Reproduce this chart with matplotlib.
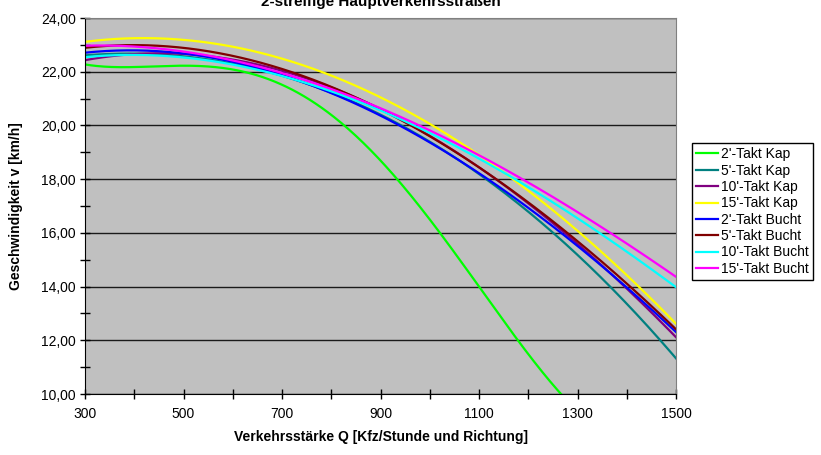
import matplotlib
matplotlib.use("Agg")
import matplotlib.pyplot as plt
import numpy as np
from matplotlib.ticker import MultipleLocator, FixedLocator, FuncFormatter

plt.rcParams['font.family'] = ['Liberation Sans', 'DejaVu Sans']

# Verkehrsstaerke Q (Kfz/h und Richtung)
q = [300, 500, 700, 900, 1100, 1300, 1500]
q_green = [300, 400, 500, 600, 700, 900, 1100, 1300]

# Geschwindigkeit v (km/h)
v_2_kap = [22.29, 22.15, 22.18, 22.12, 21.58, 18.60, 14.05, 9.35]
v_5_kap = [22.62, 22.55, 21.85, 20.40, 18.25, 15.11, 11.35]
v_10_kap = [22.46, 22.60, 22.00, 20.75, 18.38, 15.55, 12.14]
v_15_kap = [23.12, 23.18, 22.45, 21.10, 18.90, 16.04, 12.63]
v_2_bucht = [22.72, 22.65, 21.88, 20.39, 18.22, 15.49, 12.32]
v_5_bucht = [22.93, 22.81, 22.06, 20.76, 18.40, 15.61, 12.45]
v_10_bucht = [22.56, 22.50, 21.82, 20.58, 18.86, 16.42, 14.02]
v_15_bucht = [22.99, 22.71, 21.94, 20.67, 18.96, 16.67, 14.40]

series = [
    ("2'-Takt Kap", q_green, v_2_kap, '#00FF00', 4),
    ("5'-Takt Kap", q, v_5_kap, '#008080', 3),
    ("10'-Takt Kap", q, v_10_kap, '#800080', 3),
    ("15'-Takt Kap", q, v_15_kap, '#FFFF00', 3),
    ("2'-Takt Bucht", q, v_2_bucht, '#0000FF', 3),
    ("5'-Takt Bucht", q, v_5_bucht, '#800000', 3),
    ("10'-Takt Bucht", q, v_10_bucht, '#00FFFF', 3),
    ("15'-Takt Bucht", q, v_15_bucht, '#FF00FF', 3),
]

W, H = 821, 455
fig = plt.figure(figsize=(W / 100, H / 100), dpi=100)
ax = fig.add_axes([85 / W, 1 - 394 / H, 591 / W, 376 / H])
ax.set_facecolor('#C0C0C0')

# polynomial trend lines like the spreadsheet
xs = np.linspace(300, 1500, 400)
for label, x, y, col, deg in series:
    coef = np.polyfit(x, y, deg)
    ax.plot(xs, np.polyval(coef, xs), color=col, lw=1.6, label=label)

ax.set_xlim(300, 1500)
ax.set_ylim(10, 24)
ax.xaxis.set_major_locator(FixedLocator(range(300, 1501, 200)))
ax.xaxis.set_minor_locator(FixedLocator(range(400, 1500, 200)))
ax.yaxis.set_major_locator(MultipleLocator(2))
ax.yaxis.set_minor_locator(MultipleLocator(1))
ax.yaxis.set_major_formatter(FuncFormatter(lambda v, p: f"{v:.2f}".replace('.', ',')))
ax.tick_params(which='both', direction='inout', length=7, width=1, color='black',
               labelsize=10)
ax.tick_params(axis='x', pad=6)
ax.tick_params(axis='y', pad=3)
ax.grid(axis='y', which='major', color='#1a1a1a', lw=1)
ax.set_axisbelow(True)

for s in ['left', 'bottom']:
    ax.spines[s].set_color('black')
for s in ['top', 'right']:
    ax.spines[s].set_color('#808080')

fig.text(380.5 / W, 1 - 6 / H, "2-streifige Hauptverkehrsstraßen", ha='center',
         va='baseline', fontsize=11, fontweight='bold')
fig.text(16 / W, 1 - 206 / H, "Geschwindigkeit v [km/h]", rotation=90, ha='center',
         va='center', fontsize=10, fontweight='bold')
fig.text(380.5 / W, 1 - 437 / H, "Verkehrsstärke Q [Kfz/Stunde und Richtung]",
         ha='center', va='center', fontsize=10, fontweight='bold')

leg = fig.legend(loc='lower left', bbox_to_anchor=(692 / W, 1 - 280 / H),
                 fontsize=10, frameon=True, fancybox=False, shadow=False,
                 handlelength=1.6, handletextpad=0.2, labelspacing=0.17,
                 borderpad=0.3, borderaxespad=0)
leg.get_frame().set_edgecolor('black')
leg.get_frame().set_linewidth(1)
leg.get_frame().set_alpha(1)

fig.savefig("out.png", dpi=100)
